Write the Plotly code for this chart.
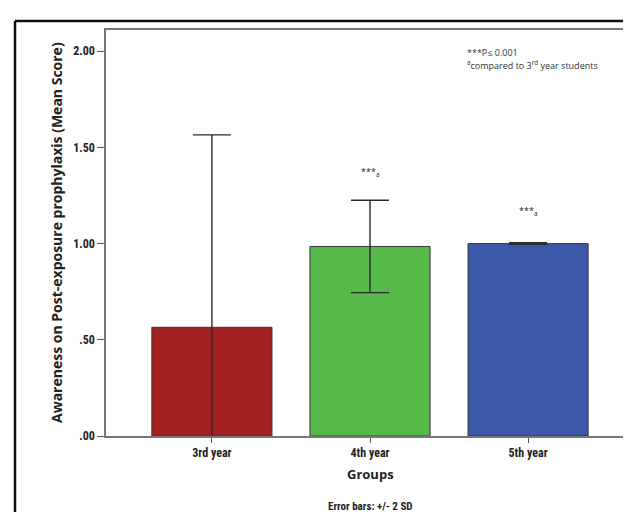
import plotly.graph_objects as go

categories = ["3rd year", "4th year", "5th year"]
means = [0.565, 0.985, 1.0]
err_2sd = [1.0, 0.24, 0.004]
colors = ["#a22222", "#56b94a", "#3d57a9"]
sig_labels = ["", "***<sub>a</sub>", "***<sub>a</sub>"]
sig_y = [None, 1.37, 1.17]
y_ticks = [0, 0.5, 1.0, 1.5, 2.0]
y_ticklabels = [".00", ".50", "1.00", "1.50", "2.00"]

narrow = "Liberation Sans Narrow, Arial Narrow, Roboto Condensed, sans-serif"
calib = "Open Sans, sans-serif"

L, R, T, B = 98, 5, 22, 84
PW, PH = 631 - L - R, 512 - T - B


def px_x(px):
    return (px - L) / PW


def px_y(py):
    return (512 - B - py) / PH


fig = go.Figure()
fig.add_trace(go.Bar(
    x=list(range(len(categories))), y=means, width=0.76,
    marker=dict(color=colors, line=dict(color="#3a3a3a", width=1)),
    error_y=dict(type="data", array=err_2sd, visible=True, color="#2a2a2a",
                 thickness=1.4, width=19),
    showlegend=False, hoverinfo="skip",
))

for i, (lab, yy) in enumerate(zip(sig_labels, sig_y)):
    if lab:
        fig.add_annotation(x=i, y=yy, text=lab, showarrow=False,
                           font=dict(family=calib, size=9, color="#222"))

fig.add_annotation(xref="paper", yref="paper", x=px_x(457), y=px_y(45), xanchor="left",
                   yanchor="middle", showarrow=False, align="left",
                   text="***P≤ 0.001", font=dict(family=calib, size=9, color="#333"))
fig.add_annotation(xref="paper", yref="paper", x=px_x(457), y=px_y(57), xanchor="left",
                   yanchor="middle", showarrow=False, align="left",
                   text="<sup>a</sup>compared to 3<sup>rd</sup> year students",
                   font=dict(family=calib, size=9, color="#333"))

fig.add_annotation(xref="paper", yref="paper", x=px_x(48), y=0.5, textangle=-90,
                   xanchor="center", yanchor="middle", showarrow=False,
                   text="<b>Awareness on Post-exposure prophylaxis (Mean Score)</b>",
                   font=dict(family=calib, size=14, color="#222"))
fig.add_annotation(xref="paper", yref="paper", x=0.5, y=px_y(466), yanchor="middle",
                   showarrow=False, text="<b>Groups</b>",
                   font=dict(family=calib, size=13, color="#222"))
fig.add_annotation(xref="paper", yref="paper", x=0.5, y=px_y(498), yanchor="middle",
                   showarrow=False, text="<b>Error bars: +/- 2 SD</b>",
                   font=dict(family=narrow, size=11, color="#222"))

# outer frame (top and left edges of the figure box)
fig.add_shape(type="line", xref="paper", yref="paper", x0=px_x(7), x1=px_x(640),
              y0=px_y(13), y1=px_y(13), line=dict(color="#111", width=2.5))
fig.add_shape(type="line", xref="paper", yref="paper", x0=px_x(7), x1=px_x(7),
              y0=px_y(13), y1=px_y(520), line=dict(color="#111", width=2.5))

fig.update_layout(
    width=631, height=512,
    margin=dict(l=L, r=R, t=T, b=B, autoexpand=False),
    paper_bgcolor="white", plot_bgcolor="white",
    xaxis=dict(range=[-0.67, 2.67], tickvals=list(range(len(categories))),
               ticktext=["<b>%s</b>" % c for c in categories],
               ticks="outside", ticklen=5, tickcolor="#555", showgrid=False, zeroline=False,
               showline=True, linecolor="#777", linewidth=1.5, mirror=True, automargin=False,
               tickfont=dict(family=narrow, size=12, color="#222"), fixedrange=True),
    yaxis=dict(range=[0, 2.11], tickvals=y_ticks, ticktext=["<b>%s</b>" % t for t in y_ticklabels],
               ticks="outside", ticklen=7, tickcolor="#555", showgrid=False, zeroline=False,
               showline=True, linecolor="#777", linewidth=1.5, mirror=True, automargin=False,
               tickfont=dict(family=narrow, size=12, color="#222"), fixedrange=True),
)

fig.write_html("out.html")
